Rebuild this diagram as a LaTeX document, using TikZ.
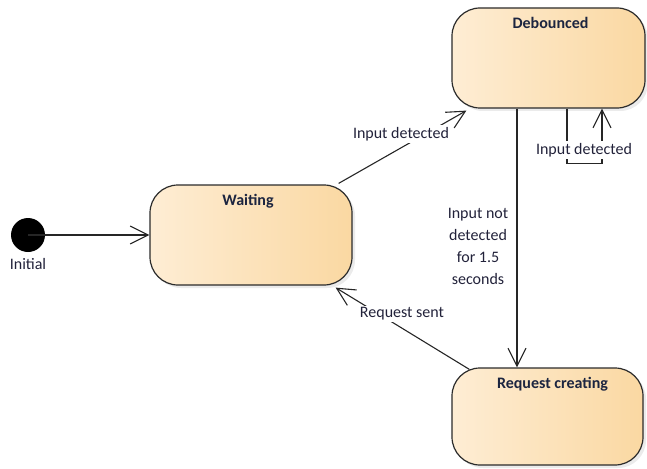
\documentclass[tikz,border=0pt]{standalone}
\usepackage{fontspec}
\setmainfont{Carlito}
\usetikzlibrary{arrows.meta,calc}
\definecolor{stateL}{HTML}{FEEDD4}
\definecolor{stateR}{HTML}{FAD8A2}
\definecolor{stateEdge}{HTML}{2B2B2B}
\definecolor{titleInk}{HTML}{1C2540}
\definecolor{labelInk}{HTML}{22223A}
\tikzset{
  x=1pt, y=-1pt,
  every node/.style={font=\fontsize{16}{18}\selectfont, text=labelInk},
  statebox/.style 2 args={draw=stateEdge, line width=1.2pt, rounded corners=28pt,
    left color=stateL, right color=stateR, shading angle=90,
    minimum width=#1, minimum height=#2, inner sep=0pt},
  statetitle/.style={font=\bfseries\fontsize{16}{18}\selectfont, text=titleInk},
  shade/.style={fill=black!20, opacity=0.4, rounded corners=28pt},
  arr/.style={draw=black!85, line width=1.1pt,
    -{Straight Barb[length=18pt,width=18pt,line width=1.1pt]}},
  edgelabel/.style={fill=white, inner sep=2pt},
}
\begin{document}
\begin{tikzpicture}
\useasboundingbox (0,0) rectangle (647,468);
\clip (0,0) rectangle (647,468);

% soft shadows behind the states
\fill[shade] (153,188) rectangle (355,288);
\fill[shade] (455,11) rectangle (648,111);
\fill[shade] (455,371) rectangle (646,468);

% states
\node[statebox={202pt}{100pt}] (wait) at (251,235) {};
\node[statebox={193pt}{100pt}] (deb) at (548.5,58) {};
\node[statebox={191pt}{97pt}] (req) at (547.5,416.5) {};
\node[statetitle, anchor=north] (waitT) at ($(wait.north)+(-3,6)$) {Waiting};
\node[statetitle, anchor=north] (debT) at ($(deb.north)+(2,6)$) {Debounced};
\node[statetitle, anchor=north] (reqT) at ($(req.north)+(5,6)$) {Request creating};

% initial pseudostate
\fill[black] (28,235) circle (17) coordinate (init);
\node (initL) at (28,264) {Initial};
\draw[arr] (init) -- (wait.west);

% Waiting -> Debounced
\draw[arr] ($(wait.north east)+(-14,-1)$) -- ($(deb.south west)+(15,2)$);
\node[edgelabel] (l1) at (401,134) {Input detected};

% Debounced -> Request creating
\draw[arr] ($(deb.south)+(-31.5,0)$) -- ($(req.north)+(-30.5,0)$);
\node[align=center, font=\fontsize{16}{22}\selectfont] (l2) at (478,246)
  {Input not\\detected\\for 1.5\\seconds};

% Request creating -> Waiting
\draw[arr] ($(req.north west)+(18,2)$) -- ($(wait.south east)+(-17,2)$);
\node[edgelabel] (l3) at (402,314) {Request sent};

% self transition on Debounced
\coordinate (s1) at ($(deb.south)+(18.5,0)$);
\coordinate (s2) at ($(deb.south)+(53.5,0)$);
\draw[arr] (s1) -- ++(0,55) -| (s2);
\node[edgelabel] (l4) at (584,150) {Input detected};
\end{tikzpicture}
\end{document}
